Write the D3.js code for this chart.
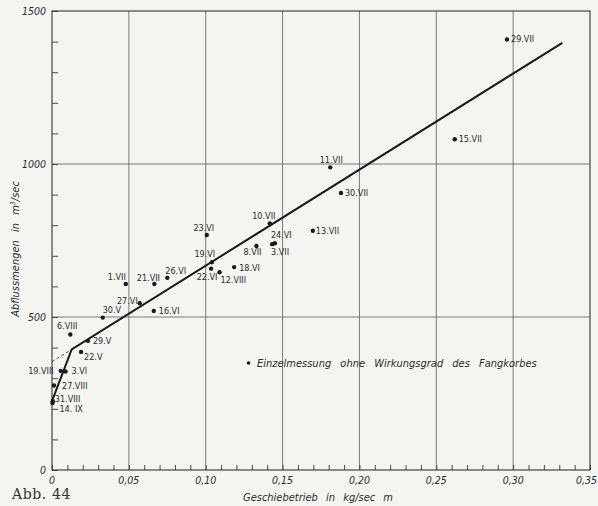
<!DOCTYPE html>
<html>
<head>
<meta charset="utf-8">
<script src="https://cdn.jsdelivr.net/npm/d3@7"></script>
<style>
  html, body { margin: 0; padding: 0; background: #f4f4f1; }
  svg { display: block; }
  .lbl { font-family: "DejaVu Sans Condensed", "DejaVu Sans", sans-serif; font-stretch: condensed; fill: #2b2b2b; }
  .it { font-family: "DejaVu Sans Condensed", "DejaVu Sans", sans-serif; font-stretch: condensed; font-style: italic; fill: #2b2b2b; }
</style>
</head>
<body>
<div id="chart"></div>
<script>
// Measurement dates (labels) and values
const dates = ["29.VII", "15.VII", "11.VII", "30.VII", "10.VII", "13.VII", "23.VI", "24.VI", "3.VII", "8.VII",
  "19.VI", "22.VI", "12.VIII", "18.VI", "26.VI", "21.VII", "1.VII", "27.VI", "16.VI", "30.V",
  "6.VIII", "29.V", "22.V", "19.VIII", "3.VI", "27.VIII", "31.VIII", "14. IX"];
const geschiebe = [0.296, 0.262, 0.181, 0.188, 0.1417, 0.1697, 0.1007, 0.145, 0.1432, 0.133,
  0.104, 0.1035, 0.109, 0.1185, 0.075, 0.0666, 0.048, 0.0571, 0.0662, 0.033,
  0.0119, 0.0234, 0.0189, 0.0057, 0.0088, 0.0013, 0.0005, 0.0003];
const abfluss = [1407, 1081, 989, 905, 806, 782, 768, 741, 738, 732,
  679, 658, 646, 663, 628, 608, 608, 545, 520, 498,
  443, 422, 386, 324, 322, 276, 225, 219];

// fitted curve (solid) and its dashed extension
const lineX = [0, 0.0128, 0.332];
const lineY = [225, 394, 1396];
const dashX = [0, 0.0128];
const dashY = [354, 394];

// axis ticks
const xMajor = [0, 0.05, 0.10, 0.15, 0.20, 0.25, 0.30, 0.35];
const xLabels = ["0", "0,05", "0,10", "0,15", "0,20", "0,25", "0,30", "0,35"];
const yMajor = [0, 500, 1000, 1500];
const yLabels = ["0", "500", "1000", "1500"];

// label placement per point: [dx, dy, anchor]
const place = [[4,0,"start"],[4,0,"start"],[1,-7,"middle"],[4,0,"start"],[-6,-7,"middle"],[3,0,"start"],
  [-3,-7,"middle"],[-4,-8,"start"],[-1,8,"start"],[-4,6,"middle"],[-7,-8,"middle"],[-4,8,"middle"],
  [1,8,"start"],[5,1,"start"],[-2,-7,"start"],[-6,-6,"middle"],[-9,-7,"middle"],[-2,-2,"end"],
  [5,0,"start"],[0,-8,"start"],[-3,-8,"middle"],[5,0,"start"],[3,5,"start"],[-7,0,"end"],
  [6,0,"start"],[8,0,"start"],[2,-2,"start"],[7,6,"start"]];

const W = 598, H = 506;
const svg = d3.select('#chart').append('svg').attr('width', W).attr('height', H);

const x = d3.scaleLinear().domain([0, 0.35]).range([52, 590]);
const y = d3.scaleLinear().domain([0, 1500]).range([470, 11]);

// grid
const grid = svg.append('g').attr('stroke', '#5a5a5a').attr('stroke-width', 0.8);
grid.selectAll('.vg').data(xMajor.slice(1, -1)).enter().append('line')
  .attr('x1', d => x(d)).attr('x2', d => x(d)).attr('y1', y(0)).attr('y2', y(1500));
grid.selectAll('.hg').data([500, 1000]).enter().append('line')
  .attr('x1', x(0)).attr('x2', x(0.35)).attr('y1', d => y(d)).attr('y2', d => y(d));

// minor ticks via axes
const xAxis = d3.axisBottom(x).tickValues(d3.range(0, 36).map(i => i / 100)).tickSize(-5).tickFormat('');
const gx = svg.append('g').attr('transform', `translate(0,${y(0)})`).call(xAxis);
const yAxis = d3.axisLeft(y).tickValues(d3.range(0, 16).map(i => i * 100)).tickSize(-6).tickFormat('');
const gy = svg.append('g').attr('transform', `translate(${x(0)},0)`).call(yAxis);
[gx, gy].forEach(g => {
  g.select('.domain').remove();
  g.selectAll('line').attr('stroke', '#3a3a3a').attr('stroke-width', 0.9);
});

// frame
svg.append('rect').attr('x', x(0)).attr('y', y(1500))
  .attr('width', x(0.35) - x(0)).attr('height', y(0) - y(1500))
  .attr('fill', 'none').attr('stroke', '#333').attr('stroke-width', 1.1);

// tick labels
svg.selectAll('.xl').data(xMajor).enter().append('text').attr('class', 'it')
  .attr('x', (d, i) => i === xMajor.length - 1 ? W - 1 : x(d)).attr('y', y(0) + 14)
  .attr('text-anchor', (d, i) => i === xMajor.length - 1 ? 'end' : 'middle')
  .style('font-size', '10.5px').text((d, i) => xLabels[i]);
svg.selectAll('.yl').data(yMajor).enter().append('text').attr('class', 'it')
  .attr('x', x(0) - 6).attr('y', d => y(d) + 4).attr('text-anchor', 'end')
  .style('font-size', '10.5px').text((d, i) => yLabels[i]);

// axis titles
svg.append('text').attr('class', 'it')
  .attr('transform', `translate(19,${249}) rotate(-90)`).attr('text-anchor', 'middle')
  .style('font-size', '11px').style('word-spacing', '5px')
  .html('Abflussmengen in m<tspan dy="-4" font-size="7px">3</tspan><tspan dy="4">/sec</tspan>');
svg.append('text').attr('class', 'it')
  .attr('x', 318).attr('y', 501).attr('text-anchor', 'middle')
  .style('font-size', '11px').style('word-spacing', '5px')
  .text('Geschiebetrieb in kg/sec m');

svg.append('text').attr('x', 12).attr('y', 499)
  .style('font-family', '"DejaVu Serif", "Liberation Serif", serif')
  .style('font-size', '14px').style('letter-spacing', '0.6px').attr('fill', '#333')
  .text('Abb. 44');

// fitted lines
const line = d3.line().x(d => x(d[0])).y(d => y(d[1]));
svg.append('path').datum(dashX.map((v, i) => [v, dashY[i]]))
  .attr('d', line).attr('fill', 'none').attr('stroke', '#333')
  .attr('stroke-width', 0.9).attr('stroke-dasharray', '3,2.5');
svg.append('path').datum(lineX.map((v, i) => [v, lineY[i]]))
  .attr('d', line).attr('fill', 'none').attr('stroke', '#1a1a1a')
  .attr('stroke-width', 2);

// points
const pts = dates.map((d, i) => ({ date: d, gx: geschiebe[i], q: abfluss[i], p: place[i] }));
svg.selectAll('.pt').data(pts).enter().append('circle')
  .attr('cx', d => x(d.gx)).attr('cy', d => y(d.q)).attr('r', 2.2).attr('fill', '#1a1a1a');
svg.selectAll('.pl').data(pts).enter().append('text').attr('class', 'lbl')
  .attr('x', d => x(d.gx) + d.p[0]).attr('y', d => y(d.q) + d.p[1] + 3)
  .attr('text-anchor', d => d.p[2]).style('font-size', '9px')
  .text(d => d.date);

// legend
svg.append('circle').attr('cx', 248.5).attr('cy', 363).attr('r', 1.8).attr('fill', '#1a1a1a');
svg.append('text').attr('class', 'it').attr('x', 257).attr('y', 367)
  .style('font-size', '11px').style('word-spacing', '6px')
  .text('Einzelmessung ohne Wirkungsgrad des Fangkorbes');
</script>
</body>
</html>
